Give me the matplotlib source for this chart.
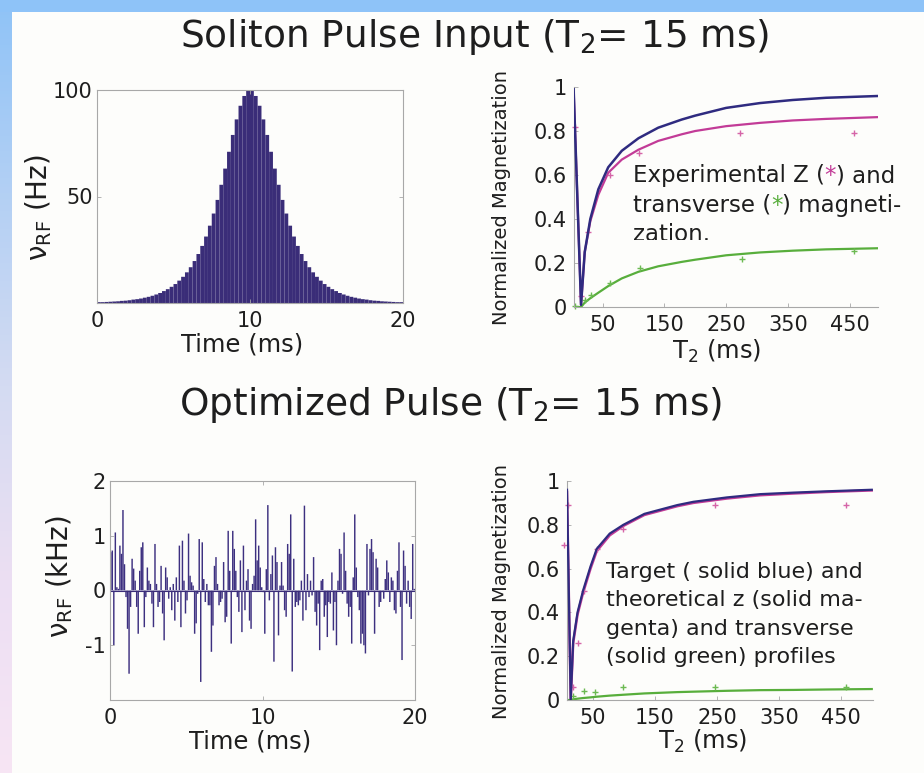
import numpy as np
import matplotlib
matplotlib.use('Agg')
import matplotlib.pyplot as plt
from matplotlib import transforms as mtransforms
from matplotlib.colors import LinearSegmentedColormap
from matplotlib.patches import Rectangle

plt.rcParams.update({
    'font.family': ['DejaVu Sans'],
    'mathtext.fontset': 'dejavusans',
    'axes.unicode_minus': False,
    'figure.facecolor': '#fdfdfb',
    'axes.facecolor': 'none',
})

# ── Data ─────────────────────────────────────────────────────────────

# Soliton pulse amplitude (Hz), 80 steps of 0.25 ms
soliton_amp = [
    0.4, 0.4, 0.5, 0.6, 0.7, 0.8, 1.0, 1.1, 1.3, 1.6,
    1.8, 2.1, 2.5, 2.9, 3.4, 4.0, 4.7, 5.6, 6.5, 7.6,
    8.9, 10.5, 12.3, 14.4, 16.8, 19.7, 23.0, 26.8, 31.2, 36.3,
    42.0, 48.4, 55.5, 63.1, 71.0, 78.9, 86.2, 92.6, 97.2, 99.7,
    99.7, 97.2, 92.6, 86.2, 78.9, 71.0, 63.1, 55.5, 48.4, 42.0,
    36.3, 31.2, 26.8, 23.0, 19.7, 16.8, 14.4, 12.3, 10.5, 8.9,
    7.6, 6.5, 5.6, 4.7, 4.0, 3.4, 2.9, 2.5, 2.1, 1.8,
    1.6, 1.3, 1.1, 1.0, 0.8, 0.7, 0.6, 0.5, 0.4, 0.4,
]

# Optimized pulse amplitude (kHz), ~0.1 ms steps over 20 ms
opt_amp = [
    0.70, 0.73, -1.00, 1.06, 0.06, 0.03, 0.82, 0.67, 1.47, 0.48,
    -0.12, -0.70, -1.52, -0.30, 0.58, 0.40, 0.18, -0.30, -0.79, 0.36,
    0.79, 0.88, -0.67, -0.12, 0.42, 0.18, 0.12, -0.24, -0.67, 0.85,
    0.12, -0.30, -0.21, 0.45, -0.42, -0.91, 0.42, 0.24, -0.15, 0.06,
    -0.36, 0.12, -0.55, 0.24, -0.21, 0.82, -0.67, 0.91, 0.18, -0.42,
    -0.18, 1.04, 0.27, 0.15, 0.09, -0.79, -0.60, -0.06, 0.94, -1.67,
    0.88, 0.21, -0.21, 0.12, -0.27,
    -0.27, -1.12, -0.64, 0.45, 0.61, 0.12, -0.27, -0.21, -0.15, 0.52,
    -0.58, -0.48, 1.09, 0.36, -0.97, 1.09, 0.76, 0.36, -0.12, -0.39,
    0.55, -0.76, 0.82, -0.36, 0.18, 0.39, -0.55, -0.70, 0.12, 0.27,
    1.30, 0.55, 0.82, 0.42, 0.06, -0.03, -0.79, 0.39, 1.56, -0.18,
    0.30, 0.64, -1.30, 0.79, 0.52, -0.82, 0.09, 0.52, 0.09, -0.36,
    -0.48, 0.85, 0.67, 1.39, -1.48, 0.58, -0.30, -0.21, -0.27, -0.18,
    0.18, -0.55, 1.55, -0.36, 0.30, -0.12, 0.18,
    -0.09, 0.61, -0.39, -0.64, -0.24, -1.09, 0.18, 0.21, -0.48, -0.27,
    -0.85, -0.21, -0.24, 0.33, -0.73, -0.21, -1.00, 0.18, 0.76, 0.67,
    -0.06, 1.06, 0.36, -0.24, -0.48, -0.30, -0.97, 0.24, 1.39, 0.42,
    -0.12, -0.36, -0.97, -0.79, -1.00, -1.15, 0.85, -0.09, 0.76, 0.94,
    0.70, -0.79, 0.58, 0.42, -0.30, -0.21, -0.03, -0.15, 0.21, 0.55,
    0.33, -0.21, 0.24, 0.18, -0.36, -0.42, 0.36, 0.88, -0.30, -1.27,
    0.73, 0.45, -0.24, 0.18, -0.30, -0.52, 0.85, 0.03,
]

# Soliton pulse: simulated profiles vs T2 (ms)
sol_t2 = [3, 15, 21, 30, 43, 59, 81, 108, 140, 178, 200, 250, 305, 358, 412, 495]
sol_target = [0.99, 0.01, 0.25, 0.40, 0.535, 0.635, 0.71, 0.767, 0.815, 0.852,
              0.87, 0.905, 0.927, 0.941, 0.951, 0.959]
sol_z = [0.99, 0.01, 0.25, 0.39, 0.51, 0.61, 0.67, 0.715, 0.755, 0.785,
         0.80, 0.822, 0.837, 0.848, 0.855, 0.863]
sol_xy = [0.0, 0.0, 0.02, 0.04, 0.065, 0.095, 0.13, 0.16, 0.185, 0.205,
          0.215, 0.235, 0.248, 0.256, 0.262, 0.267]

# Soliton pulse: experimental points
sol_exp_z_t2 = [5, 15, 27, 62, 109, 272, 457]
sol_exp_z = [0.82, 0.05, 0.34, 0.60, 0.70, 0.79, 0.79]
sol_exp_xy_t2 = [5, 22, 31, 62, 110, 275, 457]
sol_exp_xy = [0.006, 0.033, 0.056, 0.11, 0.178, 0.216, 0.254]

# Optimized pulse: profiles vs T2 (ms)
opt_t2 = [8, 14, 18, 25, 34, 46, 56, 77, 99, 133, 186, 212, 266, 320, 374, 428, 500]
opt_target = [0.96, 0.0, 0.27, 0.40, 0.50, 0.61, 0.69, 0.76, 0.80, 0.85,
              0.89, 0.905, 0.925, 0.94, 0.947, 0.953, 0.96]
opt_z = [0.95, 0.0, 0.26, 0.39, 0.49, 0.60, 0.68, 0.752, 0.795, 0.845,
         0.885, 0.90, 0.92, 0.935, 0.943, 0.95, 0.957]
opt_xy = [0.0, 0.0, 0.003, 0.006, 0.009, 0.012, 0.015, 0.02, 0.024, 0.03,
          0.036, 0.038, 0.042, 0.045, 0.046, 0.048, 0.05]

opt_exp_z_t2 = [3, 9, 18, 25, 35, 56, 99, 247, 459]
opt_exp_z = [0.71, 0.89, 0.06, 0.26, 0.50, 0.69, 0.78, 0.89, 0.89]
opt_exp_xy_t2 = [18, 35, 53, 99, 247, 459]
opt_exp_xy = [0.02, 0.04, 0.035, 0.061, 0.061, 0.061]

# ── Style ────────────────────────────────────────────────────────────
BAR_COLOR = '#3a2d78'
BLUE = '#2f2b80'
MAGENTA = '#c23b97'
GREEN = '#58ae3c'
MAG_MARK = '#d565a8'
GRN_MARK = '#6cba52'
SPINE = '#a8a8a8'
TXT = '#1e1e1e'

W, H = 924, 773
fig = plt.figure(figsize=(W / 100, H / 100), dpi=100)

# slide background: blue top band + gradient strip on the left
bg = fig.add_axes([0, 0, 1, 1], zorder=-5)
strip = LinearSegmentedColormap.from_list(
    'strip', ['#8fc3f7', '#b3d0f4', '#d4dbf2', '#ecdff3', '#f7e5f4'])
bg.imshow(np.linspace(0, 1, 256).reshape(-1, 1), cmap=strip, aspect='auto',
          extent=[0, 12, H, 0])
bg.add_patch(Rectangle((0, 0), W, 12, color='#8ec3f8', lw=0))
bg.set_xlim(0, W)
bg.set_ylim(H, 0)
bg.axis('off')


def px_axes(x0, y0, x1, y1):
    """Axes from pixel box (left, top, right, bottom)."""
    return fig.add_axes([x0 / W, 1 - y1 / H, (x1 - x0) / W, (y1 - y0) / H])


def style_box(ax):
    for s in ax.spines.values():
        s.set_color(SPINE)
        s.set_linewidth(0.8)
    ax.tick_params(direction='in', length=3, width=0.6, color=SPINE,
                   labelsize=15, labelcolor=TXT, top=True, right=True)
    ax.tick_params(axis='x', pad=5.5)
    ax.tick_params(axis='y', pad=3)


def style_open(ax):
    for s in ('top', 'right'):
        ax.spines[s].set_visible(False)
    for s in ('left', 'bottom'):
        ax.spines[s].set_color(SPINE)
        ax.spines[s].set_linewidth(0.8)
    ax.tick_params(direction='in', length=3, width=0.6, color=SPINE,
                   labelsize=15, labelcolor=TXT)
    ax.tick_params(axis='x', pad=5.5)
    ax.tick_params(axis='y', pad=5)


def put_line(ax, x, y, parts, clip=None, size=16):
    """Write one line of text made of differently coloured pieces."""
    renderer = fig.canvas.get_renderer()
    off = 0.0
    for s, c in parts:
        tr = mtransforms.offset_copy(ax.transData, fig=fig, x=off, y=0, units='dots')
        t = ax.text(x, y, s, color=c, fontsize=size, transform=tr,
                    ha='left', va='baseline', clip_on=clip is not None)
        if clip is not None:
            t.set_clip_path(clip)
        off += t.get_window_extent(renderer).width


# ── Titles ───────────────────────────────────────────────────────────
fig.text(475 / W, 1 - 47 / H, 'Soliton Pulse Input (T$_2$= 15 ms)',
         fontsize=27, ha='center', va='baseline', color=TXT)
fig.text(451 / W, 1 - 415 / H, 'Optimized Pulse (T$_2$= 15 ms)',
         fontsize=27, ha='center', va='baseline', color=TXT)

# ── Top left: soliton pulse ──────────────────────────────────────────
ax = px_axes(97, 90, 403, 303)
t_sol = np.linspace(0.125, 19.875, len(soliton_amp))
ax.bar(t_sol, soliton_amp, width=0.25, color=BAR_COLOR, lw=0, snap=False)
ax.set_xlim(0, 20)
ax.set_ylim(0, 100)
ax.set_xticks([0, 10, 20])
ax.set_yticks([50, 100])
style_box(ax)
ax.set_xlabel('Time (ms)', fontsize=17.5, color=TXT)
ax.set_ylabel(r'ν$_{\mathrm{RF}}$ (Hz)', fontsize=20, color=TXT)
ax.xaxis.set_label_coords(0.474, -0.197)
ax.yaxis.set_label_coords(-0.19, 0.45)
ax.xaxis.label.set_va('center')
ax.yaxis.label.set_va('center')

# ── Bottom left: optimized pulse ─────────────────────────────────────
ax = px_axes(110, 481, 415, 700)
t_opt = np.linspace(0.05, 19.95, len(opt_amp))
ax.bar(t_opt, opt_amp, width=0.095, color='#3d3080', lw=0, snap=False)
ax.axhline(0, color=BAR_COLOR, lw=0.8)
ax.set_xlim(0, 20)
ax.set_ylim(-2, 2)
ax.set_xticks([0, 10, 20])
ax.set_yticks([-1, 0, 1, 2])
style_box(ax)
ax.set_xlabel('Time (ms)', fontsize=17.5, color=TXT)
ax.set_ylabel(r'ν$_{\mathrm{RF}}$ (kHz)', fontsize=20, color=TXT)
ax.xaxis.set_label_coords(0.459, -0.19)
ax.yaxis.set_label_coords(-0.164, 0.562)
ax.xaxis.label.set_va('center')
ax.yaxis.label.set_va('center')

# ── Top right: soliton magnetization ─────────────────────────────────
ax = px_axes(574, 87, 878, 307)
ax.plot(sol_t2, sol_target, color=BLUE, lw=1.8, zorder=3)
ax.plot(sol_t2, sol_z, color=MAGENTA, lw=1.6, zorder=2)
ax.plot(sol_t2, sol_xy, color=GREEN, lw=1.6, zorder=2)
ax.plot(sol_exp_z_t2, sol_exp_z, '+', color=MAG_MARK, ms=5, mew=1, clip_on=False)
ax.plot(sol_exp_xy_t2, sol_exp_xy, '+', color=GRN_MARK, ms=5, mew=1, clip_on=False)
ax.set_xlim(3.6, 496)
ax.set_ylim(0, 1.0)
ax.set_xticks([50, 150, 250, 350, 450])
ax.set_yticks([0, 0.2, 0.4, 0.6, 0.8, 1.0])
ax.set_yticklabels(['0', '0.2', '0.4', '0.6', '0.8', '1'])
style_open(ax)
ax.set_xlabel('T$_2$ (ms)', fontsize=17.5, color=TXT)
ax.set_ylabel('Normalized Magnetization', fontsize=14, color=TXT)
ax.xaxis.set_label_coords(0.469, -0.203)
ax.yaxis.set_label_coords(-0.238, 0.498)
ax.xaxis.label.set_va('center')
ax.yaxis.label.set_va('center')

cut = Rectangle((-0.5, 0.304), 2.0, 1.0, transform=ax.transAxes)
put_line(ax, 98.5, 0.566, [('Experimental Z (', TXT), ('*', MAGENTA), (') and', TXT)], size=16.5)
put_line(ax, 98.5, 0.432, [('transverse (', TXT), ('*', GREEN), (') magneti-', TXT)], size=16.5)
put_line(ax, 98.5, 0.298, [('zation.', TXT)], clip=cut, size=16.5)

# ── Bottom right: optimized magnetization ────────────────────────────
ax = px_axes(567, 481, 873, 700)
ax.plot(opt_t2, opt_z, color=MAGENTA, lw=1.8, zorder=2)
ax.plot(opt_t2, opt_target, color=BLUE, lw=1.6, zorder=3)
ax.plot(opt_t2, opt_xy, color=GREEN, lw=1.6, zorder=2)
ax.plot(opt_exp_z_t2, opt_exp_z, '+', color=MAG_MARK, ms=5, mew=1, clip_on=False)
ax.plot(opt_exp_xy_t2, opt_exp_xy, '+', color=GRN_MARK, ms=5, mew=1, clip_on=False)
ax.set_xlim(8, 502)
ax.set_ylim(0, 1.0)
ax.set_xticks([50, 150, 250, 350, 450])
ax.set_yticks([0, 0.2, 0.4, 0.6, 0.8, 1.0])
ax.set_yticklabels(['0', '0.2', '0.4', '0.6', '0.8', '1'])
style_open(ax)
ax.set_xlabel('T$_2$ (ms)', fontsize=17.5, color=TXT)
ax.set_ylabel('Normalized Magnetization', fontsize=14, color=TXT)
ax.xaxis.set_label_coords(0.445, -0.19)
ax.yaxis.set_label_coords(-0.215, 0.496)
ax.xaxis.label.set_va('center')
ax.yaxis.label.set_va('center')

for i, line in enumerate(['Target ( solid blue) and',
                          'theoretical z (solid ma-',
                          'genta) and transverse',
                          '(solid green) profiles']):
    put_line(ax, 71.7, 0.557 - 0.13 * i, [(line, TXT)], size=16)

fig.savefig('out.png', dpi=100, facecolor=fig.get_facecolor())
